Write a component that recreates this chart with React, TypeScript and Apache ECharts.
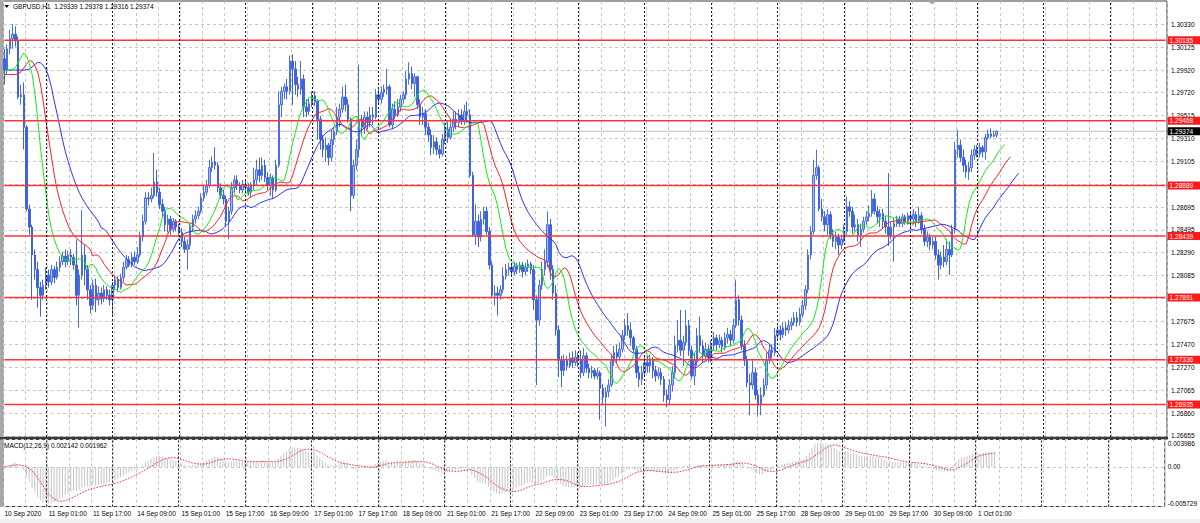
import React, { useEffect, useRef } from 'react';
import * as echarts from 'echarts';

const chartTitle = 'GBPUSD,H1  1.29339 1.29378 1.29316 1.29374';
const macdTitle = 'MACD(12,26,9) 0.002142 0.001962';
const startYear = '2020';
const tradingDays = ['10 Sep', '11 Sep', '14 Sep', '15 Sep', '16 Sep', '17 Sep', '18 Sep', '21 Sep', '22 Sep', '23 Sep', '24 Sep', '25 Sep', '28 Sep', '29 Sep', '30 Sep', '1 Oct', '2 Oct', '5 Oct'];
const firstHour = 9;
const slotCount = 420;

const priceTicks = [1.26655, 1.2686, 1.27065, 1.2727, 1.2747, 1.27675, 1.2788, 1.28085, 1.2829, 1.28495, 1.28695, 1.289, 1.29105, 1.2931, 1.29515, 1.2972, 1.2992, 1.30125, 1.3033];
const priceRange = [1.26646, 1.30536];
const levelLines = [1.30185, 1.29468, 1.28889, 1.28439, 1.27891, 1.27336, 1.26935];
const lastPrice = 1.29374;
const macdRange = [-0.005729, 0.003986];
const macdTicks = [-0.005729, 0, 0.003986];
// Alligator lines at the left edge (jaw, teeth, lips)
const alligatorStart = [1.2992, 1.2988, 1.2992];

// [open, close, low, high]
const ohlc: number[][] = [
  [1.3002, 1.2992, 1.2979, 1.3011], [1.2992, 1.3011, 1.2988, 1.3015], [1.3011, 1.3020, 1.3006, 1.3028], [1.3020, 1.3024, 1.3011, 1.3033],
  [1.3024, 1.3018, 1.3013, 1.3031], [1.3018, 1.2968, 1.2966, 1.3022], [1.2968, 1.2970, 1.2961, 1.2979], [1.2970, 1.2941, 1.2921, 1.2981],
  [1.2941, 1.2868, 1.2866, 1.2943], [1.2868, 1.2852, 1.2845, 1.2872], [1.2852, 1.2827, 1.2787, 1.2854], [1.2827, 1.2814, 1.2805, 1.2832],
  [1.2814, 1.2798, 1.2780, 1.2821], [1.2798, 1.2791, 1.2772, 1.2803], [1.2791, 1.2800, 1.2787, 1.2805], [1.2800, 1.2809, 1.2796, 1.2816],
  [1.2809, 1.2803, 1.2798, 1.2814], [1.2803, 1.2814, 1.2800, 1.2818], [1.2814, 1.2807, 1.2802, 1.2817], [1.2807, 1.2816, 1.2805, 1.2821],
  [1.2816, 1.2821, 1.2812, 1.2826], [1.2821, 1.2826, 1.2818, 1.2830], [1.2826, 1.2821, 1.2816, 1.2832], [1.2821, 1.2827, 1.2818, 1.2831],
  [1.2827, 1.2825, 1.2818, 1.2832], [1.2825, 1.2818, 1.2814, 1.2828], [1.2818, 1.2791, 1.2782, 1.2841], [1.2791, 1.2809, 1.2762, 1.2814],
  [1.2809, 1.2827, 1.2805, 1.2867], [1.2827, 1.2814, 1.2800, 1.2836], [1.2814, 1.2796, 1.2787, 1.2818], [1.2796, 1.2782, 1.2775, 1.2800],
  [1.2782, 1.2800, 1.2778, 1.2805], [1.2800, 1.2787, 1.2776, 1.2806], [1.2787, 1.2793, 1.2782, 1.2799], [1.2793, 1.2788, 1.2783, 1.2798],
  [1.2788, 1.2796, 1.2785, 1.2800], [1.2796, 1.2791, 1.2787, 1.2799], [1.2791, 1.2787, 1.2782, 1.2796], [1.2787, 1.2800, 1.2773, 1.2803],
  [1.2800, 1.2805, 1.2796, 1.2809], [1.2805, 1.2798, 1.2794, 1.2808], [1.2798, 1.2807, 1.2796, 1.2810], [1.2807, 1.2816, 1.2803, 1.2821],
  [1.2816, 1.2823, 1.2814, 1.2827], [1.2823, 1.2818, 1.2816, 1.2826], [1.2818, 1.2825, 1.2816, 1.2829], [1.2825, 1.2821, 1.2818, 1.2830],
  [1.2821, 1.2827, 1.2819, 1.2834], [1.2827, 1.2843, 1.2825, 1.2848], [1.2843, 1.2857, 1.2839, 1.2863], [1.2857, 1.2878, 1.2854, 1.2883],
  [1.2878, 1.2877, 1.2871, 1.2883], [1.2877, 1.2880, 1.2874, 1.2887], [1.2880, 1.2892, 1.2878, 1.2918], [1.2892, 1.2883, 1.2879, 1.2903],
  [1.2883, 1.2872, 1.2868, 1.2887], [1.2872, 1.2866, 1.2861, 1.2877], [1.2866, 1.2854, 1.2848, 1.2870], [1.2854, 1.2859, 1.2847, 1.2863],
  [1.2859, 1.2850, 1.2845, 1.2862], [1.2850, 1.2857, 1.2847, 1.2860], [1.2857, 1.2852, 1.2848, 1.2859], [1.2852, 1.2847, 1.2843, 1.2855],
  [1.2847, 1.2839, 1.2834, 1.2851], [1.2839, 1.2832, 1.2829, 1.2843], [1.2832, 1.2836, 1.2814, 1.2841], [1.2836, 1.2852, 1.2832, 1.2855],
  [1.2852, 1.2859, 1.2848, 1.2863], [1.2859, 1.2862, 1.2855, 1.2867], [1.2862, 1.2866, 1.2859, 1.2870], [1.2866, 1.2878, 1.2864, 1.2882],
  [1.2878, 1.2883, 1.2875, 1.2889], [1.2883, 1.2889, 1.2880, 1.2894], [1.2889, 1.2905, 1.2887, 1.2912], [1.2905, 1.2910, 1.2901, 1.2915],
  [1.2910, 1.2907, 1.2903, 1.2923], [1.2907, 1.2887, 1.2883, 1.2910], [1.2887, 1.2880, 1.2877, 1.2891], [1.2880, 1.2877, 1.2872, 1.2885],
  [1.2877, 1.2857, 1.2852, 1.2880], [1.2857, 1.2866, 1.2841, 1.2870], [1.2866, 1.2887, 1.2863, 1.2892], [1.2887, 1.2894, 1.2883, 1.2898],
  [1.2894, 1.2889, 1.2885, 1.2898], [1.2889, 1.2885, 1.2882, 1.2892], [1.2885, 1.2890, 1.2882, 1.2894], [1.2890, 1.2887, 1.2882, 1.2893],
  [1.2887, 1.2883, 1.2880, 1.2891], [1.2883, 1.2889, 1.2878, 1.2892], [1.2889, 1.2894, 1.2885, 1.2905], [1.2894, 1.2903, 1.2889, 1.2912],
  [1.2903, 1.2898, 1.2892, 1.2914], [1.2898, 1.2907, 1.2894, 1.2914], [1.2907, 1.2896, 1.2892, 1.2912], [1.2896, 1.2889, 1.2885, 1.2901],
  [1.2889, 1.2896, 1.2880, 1.2900], [1.2896, 1.2885, 1.2877, 1.2898], [1.2885, 1.2907, 1.2883, 1.2912], [1.2907, 1.2961, 1.2905, 1.2973],
  [1.2961, 1.2973, 1.2950, 1.2977], [1.2973, 1.2977, 1.2966, 1.2980], [1.2977, 1.2973, 1.2966, 1.2984], [1.2973, 1.3000, 1.2970, 1.3005],
  [1.3000, 1.2993, 1.2961, 1.3006], [1.2993, 1.2979, 1.2970, 1.3000], [1.2979, 1.2975, 1.2968, 1.2986], [1.2975, 1.2984, 1.2970, 1.3000],
  [1.2984, 1.2959, 1.2950, 1.2988], [1.2959, 1.2955, 1.2950, 1.2966], [1.2955, 1.2962, 1.2952, 1.2966], [1.2962, 1.2969, 1.2959, 1.2973],
  [1.2969, 1.2964, 1.2960, 1.2973], [1.2964, 1.2948, 1.2930, 1.2966], [1.2948, 1.2930, 1.2921, 1.2951], [1.2930, 1.2921, 1.2914, 1.2934],
  [1.2921, 1.2925, 1.2910, 1.2932], [1.2925, 1.2914, 1.2907, 1.2927], [1.2914, 1.2930, 1.2910, 1.2939], [1.2930, 1.2937, 1.2925, 1.2941],
  [1.2937, 1.2950, 1.2934, 1.2959], [1.2950, 1.2957, 1.2941, 1.2962], [1.2957, 1.2968, 1.2954, 1.2977], [1.2968, 1.2961, 1.2955, 1.2979],
  [1.2961, 1.2948, 1.2945, 1.2966], [1.2948, 1.2880, 1.2866, 1.2950], [1.2880, 1.2907, 1.2877, 1.2912], [1.2907, 1.2921, 1.2903, 1.2930],
  [1.2921, 1.2946, 1.2914, 1.2997], [1.2946, 1.2941, 1.2934, 1.2952], [1.2941, 1.2950, 1.2935, 1.2955], [1.2950, 1.2945, 1.2939, 1.2955],
  [1.2945, 1.2952, 1.2941, 1.2959], [1.2952, 1.2950, 1.2943, 1.2959], [1.2950, 1.2970, 1.2948, 1.2975], [1.2970, 1.2966, 1.2961, 1.2975],
  [1.2966, 1.2972, 1.2962, 1.2977], [1.2972, 1.2975, 1.2968, 1.2979], [1.2975, 1.2977, 1.2970, 1.2993], [1.2977, 1.2943, 1.2941, 1.2979],
  [1.2943, 1.2957, 1.2939, 1.2962], [1.2957, 1.2952, 1.2948, 1.2964], [1.2952, 1.2959, 1.2950, 1.2966], [1.2959, 1.2966, 1.2955, 1.2970],
  [1.2966, 1.2970, 1.2962, 1.2973], [1.2970, 1.2984, 1.2966, 1.2991], [1.2984, 1.2989, 1.2979, 1.2999], [1.2989, 1.2980, 1.2975, 1.2995],
  [1.2980, 1.2986, 1.2968, 1.2989], [1.2986, 1.2961, 1.2957, 1.2987], [1.2961, 1.2950, 1.2943, 1.2966], [1.2950, 1.2953, 1.2943, 1.2959],
  [1.2953, 1.2941, 1.2934, 1.2957], [1.2941, 1.2934, 1.2928, 1.2945], [1.2934, 1.2923, 1.2916, 1.2939], [1.2923, 1.2928, 1.2917, 1.2934],
  [1.2928, 1.2921, 1.2916, 1.2932], [1.2921, 1.2917, 1.2913, 1.2925], [1.2917, 1.2930, 1.2915, 1.2935], [1.2930, 1.2939, 1.2926, 1.2945],
  [1.2939, 1.2932, 1.2927, 1.2946], [1.2932, 1.2941, 1.2930, 1.2948], [1.2941, 1.2948, 1.2937, 1.2955], [1.2948, 1.2945, 1.2939, 1.2955],
  [1.2945, 1.2952, 1.2941, 1.2957], [1.2952, 1.2946, 1.2943, 1.2957], [1.2946, 1.2955, 1.2943, 1.2961], [1.2955, 1.2952, 1.2945, 1.2964],
  [1.2952, 1.2898, 1.2896, 1.2957], [1.2898, 1.2845, 1.2843, 1.2901], [1.2845, 1.2857, 1.2836, 1.2872], [1.2857, 1.2843, 1.2834, 1.2863],
  [1.2843, 1.2859, 1.2839, 1.2866], [1.2859, 1.2866, 1.2854, 1.2870], [1.2866, 1.2848, 1.2845, 1.2870], [1.2848, 1.2818, 1.2814, 1.2852],
  [1.2818, 1.2791, 1.2789, 1.2821], [1.2791, 1.2793, 1.2782, 1.2800], [1.2793, 1.2791, 1.2773, 1.2799], [1.2791, 1.2796, 1.2787, 1.2800],
  [1.2796, 1.2808, 1.2793, 1.2816], [1.2808, 1.2814, 1.2805, 1.2819], [1.2814, 1.2816, 1.2809, 1.2820], [1.2816, 1.2812, 1.2809, 1.2819],
  [1.2812, 1.2817, 1.2809, 1.2821], [1.2817, 1.2814, 1.2810, 1.2820], [1.2814, 1.2818, 1.2811, 1.2821], [1.2818, 1.2812, 1.2807, 1.2821],
  [1.2812, 1.2816, 1.2809, 1.2820], [1.2816, 1.2819, 1.2812, 1.2823], [1.2819, 1.2814, 1.2810, 1.2821], [1.2814, 1.2787, 1.2778, 1.2818],
  [1.2787, 1.2769, 1.2711, 1.2791], [1.2769, 1.2800, 1.2764, 1.2805], [1.2800, 1.2814, 1.2796, 1.2821], [1.2814, 1.2821, 1.2809, 1.2832],
  [1.2821, 1.2854, 1.2816, 1.2866], [1.2854, 1.2814, 1.2805, 1.2859], [1.2814, 1.2793, 1.2787, 1.2818], [1.2793, 1.2760, 1.2755, 1.2800],
  [1.2760, 1.2733, 1.2718, 1.2764], [1.2733, 1.2724, 1.2709, 1.2737], [1.2724, 1.2733, 1.2719, 1.2738], [1.2733, 1.2728, 1.2724, 1.2737],
  [1.2728, 1.2735, 1.2726, 1.2740], [1.2735, 1.2731, 1.2726, 1.2741], [1.2731, 1.2736, 1.2728, 1.2742], [1.2736, 1.2733, 1.2727, 1.2740],
  [1.2733, 1.2722, 1.2717, 1.2742], [1.2722, 1.2737, 1.2719, 1.2744], [1.2737, 1.2726, 1.2722, 1.2740], [1.2726, 1.2722, 1.2717, 1.2730],
  [1.2722, 1.2724, 1.2717, 1.2728], [1.2724, 1.2719, 1.2716, 1.2726], [1.2719, 1.2722, 1.2716, 1.2726], [1.2722, 1.2708, 1.2680, 1.2724],
  [1.2708, 1.2700, 1.2693, 1.2712], [1.2700, 1.2705, 1.2674, 1.2709], [1.2705, 1.2711, 1.2700, 1.2716], [1.2711, 1.2733, 1.2709, 1.2739],
  [1.2733, 1.2740, 1.2728, 1.2746], [1.2740, 1.2736, 1.2731, 1.2747], [1.2736, 1.2743, 1.2733, 1.2749], [1.2743, 1.2755, 1.2740, 1.2760],
  [1.2755, 1.2764, 1.2751, 1.2770], [1.2764, 1.2760, 1.2755, 1.2775], [1.2760, 1.2753, 1.2746, 1.2767], [1.2753, 1.2743, 1.2740, 1.2755],
  [1.2743, 1.2722, 1.2717, 1.2746], [1.2722, 1.2716, 1.2709, 1.2728], [1.2716, 1.2722, 1.2711, 1.2728], [1.2722, 1.2731, 1.2719, 1.2737],
  [1.2731, 1.2728, 1.2722, 1.2737], [1.2728, 1.2733, 1.2722, 1.2738], [1.2733, 1.2724, 1.2717, 1.2736], [1.2724, 1.2719, 1.2714, 1.2728],
  [1.2719, 1.2722, 1.2716, 1.2726], [1.2722, 1.2716, 1.2711, 1.2726], [1.2716, 1.2702, 1.2696, 1.2719], [1.2702, 1.2698, 1.2691, 1.2707],
  [1.2698, 1.2711, 1.2693, 1.2716], [1.2711, 1.2722, 1.2705, 1.2728], [1.2722, 1.2746, 1.2717, 1.2755], [1.2746, 1.2751, 1.2740, 1.2769],
  [1.2751, 1.2742, 1.2737, 1.2778], [1.2742, 1.2749, 1.2728, 1.2755], [1.2749, 1.2764, 1.2746, 1.2778], [1.2764, 1.2742, 1.2737, 1.2769],
  [1.2742, 1.2719, 1.2716, 1.2746], [1.2719, 1.2733, 1.2711, 1.2740], [1.2733, 1.2755, 1.2728, 1.2762], [1.2755, 1.2746, 1.2740, 1.2772],
  [1.2746, 1.2737, 1.2731, 1.2751], [1.2737, 1.2743, 1.2733, 1.2749], [1.2743, 1.2735, 1.2731, 1.2747], [1.2735, 1.2746, 1.2731, 1.2751],
  [1.2746, 1.2753, 1.2742, 1.2758], [1.2753, 1.2747, 1.2742, 1.2756], [1.2747, 1.2751, 1.2744, 1.2756], [1.2751, 1.2745, 1.2740, 1.2754],
  [1.2745, 1.2753, 1.2742, 1.2758], [1.2753, 1.2756, 1.2748, 1.2762], [1.2756, 1.2751, 1.2746, 1.2760], [1.2751, 1.2764, 1.2748, 1.2770],
  [1.2764, 1.2787, 1.2762, 1.2805], [1.2787, 1.2769, 1.2764, 1.2791], [1.2769, 1.2746, 1.2742, 1.2773], [1.2746, 1.2733, 1.2728, 1.2751],
  [1.2733, 1.2713, 1.2709, 1.2737], [1.2713, 1.2711, 1.2684, 1.2721], [1.2711, 1.2722, 1.2707, 1.2733], [1.2722, 1.2702, 1.2698, 1.2726],
  [1.2702, 1.2693, 1.2684, 1.2707], [1.2693, 1.2702, 1.2684, 1.2709], [1.2702, 1.2711, 1.2700, 1.2717], [1.2711, 1.2733, 1.2707, 1.2740],
  [1.2733, 1.2742, 1.2730, 1.2748], [1.2742, 1.2740, 1.2735, 1.2747], [1.2740, 1.2755, 1.2737, 1.2762], [1.2755, 1.2760, 1.2751, 1.2764],
  [1.2760, 1.2756, 1.2751, 1.2764], [1.2756, 1.2762, 1.2753, 1.2767], [1.2762, 1.2760, 1.2755, 1.2767], [1.2760, 1.2764, 1.2757, 1.2769],
  [1.2764, 1.2767, 1.2760, 1.2771], [1.2767, 1.2771, 1.2764, 1.2776], [1.2771, 1.2767, 1.2763, 1.2776], [1.2767, 1.2774, 1.2764, 1.2780],
  [1.2774, 1.2782, 1.2771, 1.2787], [1.2782, 1.2796, 1.2778, 1.2800], [1.2796, 1.2827, 1.2793, 1.2832], [1.2827, 1.2848, 1.2823, 1.2853],
  [1.2848, 1.2898, 1.2845, 1.2912], [1.2898, 1.2905, 1.2894, 1.2921], [1.2905, 1.2868, 1.2866, 1.2907], [1.2868, 1.2861, 1.2857, 1.2877],
  [1.2861, 1.2854, 1.2848, 1.2866], [1.2854, 1.2863, 1.2845, 1.2868], [1.2863, 1.2845, 1.2841, 1.2866], [1.2845, 1.2839, 1.2834, 1.2850],
  [1.2839, 1.2843, 1.2832, 1.2848], [1.2843, 1.2836, 1.2827, 1.2846], [1.2836, 1.2841, 1.2832, 1.2845], [1.2841, 1.2848, 1.2838, 1.2854],
  [1.2848, 1.2870, 1.2845, 1.2879], [1.2870, 1.2866, 1.2861, 1.2875], [1.2866, 1.2852, 1.2846, 1.2870], [1.2852, 1.2854, 1.2848, 1.2863],
  [1.2854, 1.2845, 1.2839, 1.2859], [1.2845, 1.2850, 1.2834, 1.2855], [1.2850, 1.2857, 1.2847, 1.2861], [1.2857, 1.2861, 1.2854, 1.2866],
  [1.2861, 1.2864, 1.2857, 1.2871], [1.2864, 1.2877, 1.2861, 1.2885], [1.2877, 1.2866, 1.2863, 1.2882], [1.2866, 1.2861, 1.2855, 1.2871],
  [1.2861, 1.2864, 1.2852, 1.2868], [1.2864, 1.2857, 1.2850, 1.2868], [1.2857, 1.2852, 1.2846, 1.2862], [1.2852, 1.2844, 1.2835, 1.2900],
  [1.2844, 1.2852, 1.2841, 1.2857], [1.2852, 1.2855, 1.2821, 1.2860], [1.2855, 1.2859, 1.2852, 1.2862], [1.2859, 1.2855, 1.2852, 1.2862],
  [1.2855, 1.2861, 1.2852, 1.2864], [1.2861, 1.2857, 1.2854, 1.2863], [1.2857, 1.2862, 1.2854, 1.2865], [1.2862, 1.2859, 1.2852, 1.2866],
  [1.2859, 1.2863, 1.2854, 1.2868], [1.2863, 1.2857, 1.2852, 1.2866], [1.2857, 1.2862, 1.2855, 1.2870], [1.2862, 1.2850, 1.2846, 1.2865],
  [1.2850, 1.2839, 1.2835, 1.2854], [1.2839, 1.2843, 1.2834, 1.2848], [1.2843, 1.2836, 1.2831, 1.2846], [1.2836, 1.2839, 1.2832, 1.2843],
  [1.2839, 1.2827, 1.2823, 1.2843], [1.2827, 1.2818, 1.2805, 1.2832], [1.2818, 1.2825, 1.2814, 1.2830], [1.2825, 1.2821, 1.2816, 1.2836],
  [1.2821, 1.2832, 1.2818, 1.2841], [1.2832, 1.2827, 1.2809, 1.2839], [1.2827, 1.2850, 1.2825, 1.2854], [1.2850, 1.2921, 1.2846, 1.2928],
  [1.2921, 1.2925, 1.2914, 1.2939], [1.2925, 1.2914, 1.2910, 1.2930], [1.2914, 1.2907, 1.2901, 1.2921], [1.2907, 1.2901, 1.2896, 1.2912],
  [1.2901, 1.2905, 1.2894, 1.2910], [1.2905, 1.2916, 1.2901, 1.2921], [1.2916, 1.2921, 1.2912, 1.2925], [1.2921, 1.2917, 1.2914, 1.2925],
  [1.2917, 1.2923, 1.2914, 1.2927], [1.2923, 1.2919, 1.2914, 1.2925], [1.2919, 1.2932, 1.2912, 1.2935], [1.2932, 1.2935, 1.2930, 1.2939],
  [1.2935, 1.2933, 1.2931, 1.2940], [1.2933, 1.2934, 1.2932, 1.2938], [1.29339, 1.29374, 1.29316, 1.29378],
];

// ---- categories (hourly bars, weekends skipped) ----
const categories: string[] = [];
tradingDays.forEach((d, di) => {
  for (let h = di === 0 ? firstHour : 0; h < 24; h++) {
    if (categories.length < slotCount) categories.push(`${d} ${String(h).padStart(2, '0')}:00`);
  }
});
const daySeparators = tradingDays.slice(1).map((d) => `${d} 00:00`).filter((c) => categories.includes(c));
const lastBar = ohlc.length - 1;

// ---- indicators derived from the bars (Alligator 13/8, 8/5, 5/3 on median; MACD 12,26,9) ----
const median = ohlc.map((b) => (b[2] + b[3]) / 2);
const closes = ohlc.map((b) => b[1]);
function smmaShifted(period: number, shift: number, start: number) {
  const out: (number | string)[] = [];
  for (let i = 0; i < shift; i++) out.push(start);
  let v = start;
  median.forEach((m) => {
    v = (v * (period - 1) + m) / period;
    out.push(v);
  });
  return out;
}
const jaw = smmaShifted(13, 8, alligatorStart[0]);
const teeth = smmaShifted(8, 5, alligatorStart[1]);
const lips = smmaShifted(5, 3, alligatorStart[2]);
function ema(src: number[], period: number) {
  const k = 2 / (period + 1);
  let v = src[0];
  return src.map((x) => (v = v + k * (x - v)));
}
const e12 = ema(closes, 12);
const e26 = ema(closes, 26);
const macdMain = e12.map((v, i) => v - e26[i]);
const macdSignal = macdMain.map((_, i) => {
  const s = macdMain.slice(Math.max(0, i - 8), i + 1);
  return s.reduce((a, b) => a + b, 0) / s.length;
});

const FONT = '"Liberation Sans", Arial, sans-serif';
const GRID_COLOR = '#c6c6c6';

function hLineSeries(name: string, value: number, color: string, width: number, tagBg: string, z: number) {
  return {
    name,
    type: 'line',
    xAxisIndex: 0,
    yAxisIndex: 0,
    data: [[0, value], [slotCount - 1, value]],
    showSymbol: false,
    symbol: 'none',
    silent: true,
    lineStyle: { color, width, type: 'solid' },
    itemStyle: { color },
    clip: false,
    z,
    endLabel: {
      show: true,
      distance: 2,
      formatter: () => value.toFixed(5),
      color: '#ffffff',
      backgroundColor: tagBg,
      fontSize: 6.5,
      fontFamily: FONT,
      padding: [1, 8, 0, 2],
      lineHeight: 7,
    },
  };
}

export default function App() {
  const ref = useRef<HTMLDivElement>(null);
  useEffect(() => {
    document.body.style.margin = '0';
    const chart = echarts.init(ref.current!, null, { renderer: 'svg' });
    const sepMarkLine = () => ({
      silent: true,
      symbol: ['none', 'none'],
      animation: false,
      lineStyle: { color: '#1a1a1a', type: [2, 2], width: 1 },
      label: { show: false },
      data: daySeparators.map((c) => ({ xAxis: c })),
    });
    const option: any = {
      animation: false,
      backgroundColor: '#ffffff',
      textStyle: { fontFamily: FONT },
      title: [
        { text: chartTitle, left: 13, top: 3, padding: 0, textStyle: { fontSize: 6.5, fontWeight: 'normal', color: '#000', fontFamily: FONT } },
        { text: macdTitle, left: 4, top: 442, padding: 0, textStyle: { fontSize: 6.5, fontWeight: 'normal', color: '#000', fontFamily: FONT } },
      ],
      grid: [
        { left: 3, right: 33, top: 1, height: 436, show: true, borderColor: '#3c3c3c', borderWidth: 1, backgroundColor: '#fff' },
        { left: 3, right: 33, top: 439.5, height: 67, show: true, borderColor: '#3c3c3c', borderWidth: 1, backgroundColor: '#fff' },
      ],
      xAxis: [
        {
          type: 'category', gridIndex: 0, data: categories, boundaryGap: true,
          axisLine: { show: false }, axisTick: { show: false }, axisLabel: { show: false },
          splitLine: { show: true, interval: 7, lineStyle: { color: GRID_COLOR, type: [3, 3], width: 1 } },
        },
        {
          type: 'category', gridIndex: 1, data: categories, boundaryGap: true,
          axisLine: { show: false }, axisTick: { show: false },
          axisLabel: {
            show: true, interval: 15, align: 'left', margin: 3, fontSize: 6.5, color: '#000', fontFamily: FONT,
            formatter: (v: string, idx: number) => (idx > lastBar ? '' : idx === 0 ? `${tradingDays[0]} ${startYear}` : v),
          },
          splitLine: { show: true, interval: 7, lineStyle: { color: GRID_COLOR, type: [3, 3], width: 1 } },
        },
      ],
      yAxis: [
        {
          type: 'value', gridIndex: 0, position: 'right', min: priceRange[0], max: priceRange[1],
          axisLine: { show: false }, axisTick: { show: false, customValues: priceTicks },
          axisLabel: { customValues: priceTicks, formatter: (v: number) => v.toFixed(5), fontSize: 6.5, color: '#000', margin: 4, fontFamily: FONT },
          splitLine: { show: true, lineStyle: { color: GRID_COLOR, type: [3, 3], width: 1 } },
        },
        {
          type: 'value', gridIndex: 1, position: 'right', min: macdRange[0], max: macdRange[1],
          axisLine: { show: false }, axisTick: { show: false, customValues: macdTicks },
          axisLabel: {
            customValues: macdTicks, margin: 3, color: '#000', fontSize: 6.5, fontFamily: FONT,
            formatter: (v: number) => (v === 0 ? '{m|0.00}' : v > 0 ? `{t|${v.toFixed(6)}}` : `{b|${v.toFixed(6)}}`),
            rich: {
              t: { fontSize: 6.5, fontFamily: FONT, color: '#000', padding: [7, 0, 0, 0] },
              m: { fontSize: 6.5, fontFamily: FONT, color: '#000' },
              b: { fontSize: 6.5, fontFamily: FONT, color: '#000', padding: [0, 0, 7, 0] },
            },
          },
          splitLine: { show: true, lineStyle: { color: GRID_COLOR, type: [3, 3], width: 1 } },
        },
      ],
      series: [
        {
          name: 'Separators', type: 'line', xAxisIndex: 0, yAxisIndex: 0, data: [], color: '#1a1a1a',
          markLine: sepMarkLine(), z: 1,
        },
        hLineSeries('Last', lastPrice, '#bdbdbd', 1, '#000000', 1),
        {
          name: 'GBPUSD', type: 'candlestick', xAxisIndex: 0, yAxisIndex: 0, data: ohlc, barWidth: 2,
          itemStyle: { color: '#a9bbf2', color0: '#3f63dc', borderColor: '#4a6fe3', borderColor0: '#3f63dc', borderWidth: 1 },
          z: 2,
        },
        ...levelLines.map((v, i) => hLineSeries(`Level ${i + 1}`, v, '#ff3434', 1.5, '#ff1a1a', 4)),
        { name: 'Jaw', type: 'line', xAxisIndex: 0, yAxisIndex: 0, data: jaw, showSymbol: false, lineStyle: { color: '#2f2fff', width: 1 }, z: 3 },
        { name: 'Teeth', type: 'line', xAxisIndex: 0, yAxisIndex: 0, data: teeth, showSymbol: false, lineStyle: { color: '#ff2020', width: 1 }, z: 3 },
        { name: 'Lips', type: 'line', xAxisIndex: 0, yAxisIndex: 0, data: lips, showSymbol: false, lineStyle: { color: '#10ee10', width: 1 }, z: 3 },
        {
          name: 'MACD', type: 'bar', xAxisIndex: 1, yAxisIndex: 1, data: macdMain, barWidth: 1,
          itemStyle: { color: '#c4c4c4' },
          markLine: sepMarkLine(),
        },
        {
          name: 'Signal', type: 'line', xAxisIndex: 1, yAxisIndex: 1, data: macdSignal, showSymbol: false,
          lineStyle: { color: '#ff2020', width: 1, type: [1.5, 1.5] }, z: 3,
        },
      ],
      graphic: [
        { type: 'rect', shape: { x: 0, y: 0, width: 2.5, height: 507 }, style: { fill: '#a8a8a8' }, silent: true },
        { type: 'rect', shape: { x: 0, y: 437, width: 1168, height: 2.5 }, style: { fill: '#3a3a3a' }, silent: true },
        { type: 'rect', shape: { x: 0, y: 519, width: 1200, height: 4 }, style: { fill: '#f0f0f0' }, silent: true },
        { type: 'polygon', shape: { points: [[4.5, 5], [9, 5], [6.75, 8]] }, style: { fill: '#000' }, silent: true },
        { type: 'polygon', shape: { points: [[929, 1.5], [935, 1.5], [932, 4.5]] }, style: { fill: '#a0a0a0' }, silent: true },
      ],
    };
    chart.setOption(option);
    return () => chart.dispose();
  }, []);
  return <div ref={ref} style={{ width: 1200, height: 523 }} />;
}
